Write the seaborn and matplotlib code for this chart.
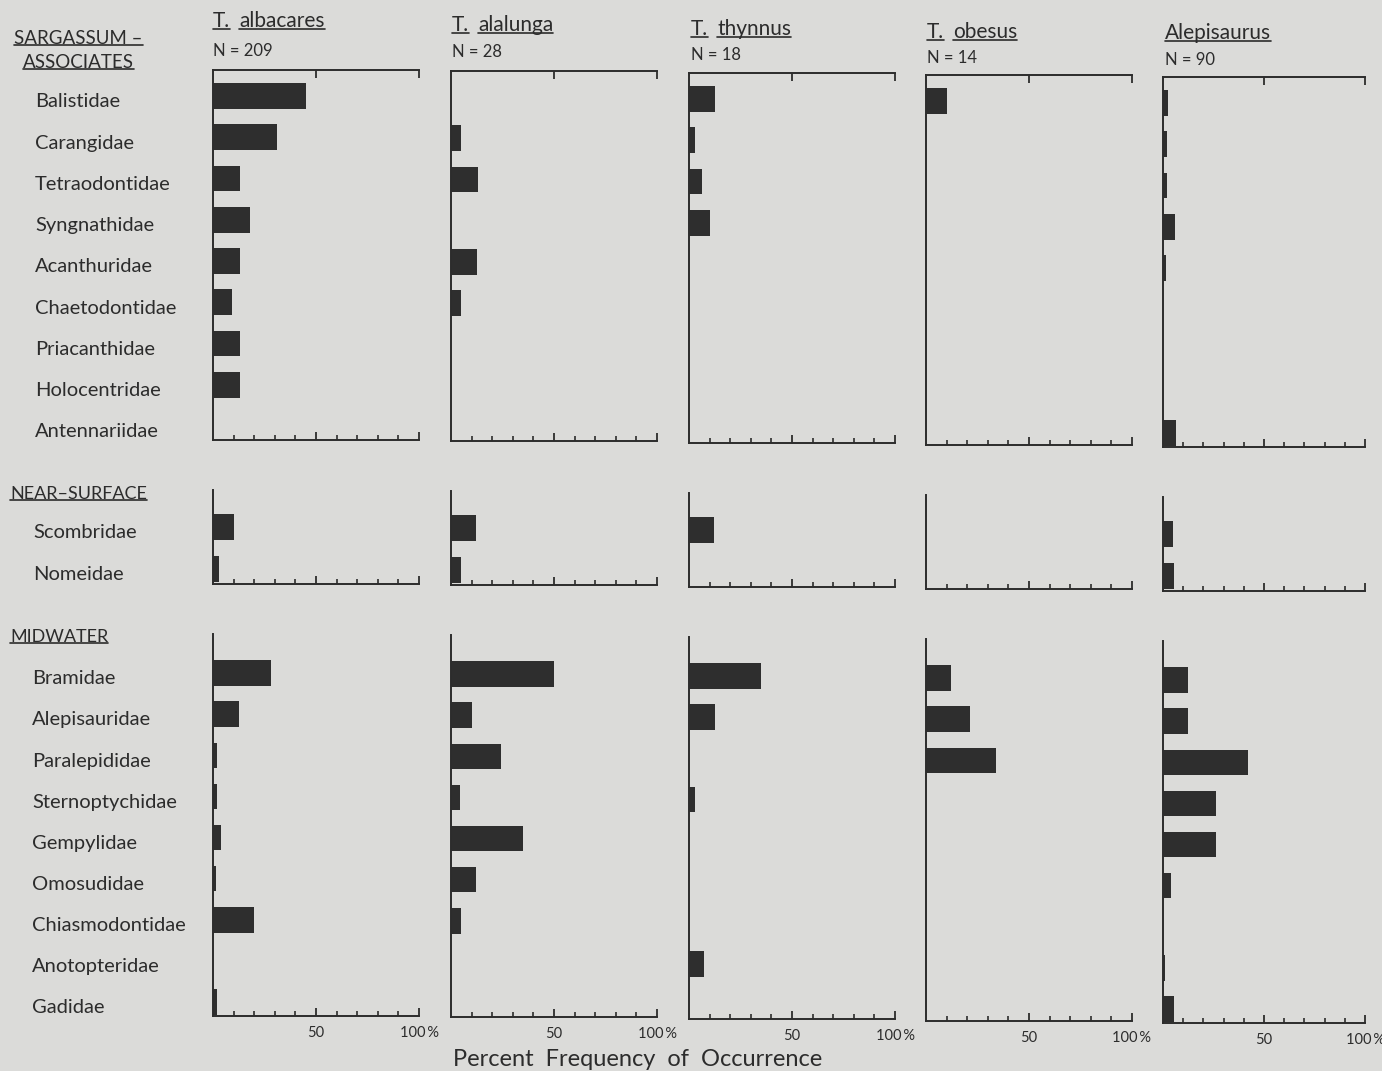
import numpy as np
import pandas as pd
import matplotlib
matplotlib.use('Agg')
import matplotlib.pyplot as plt
import matplotlib.transforms as mtransforms
from matplotlib.lines import Line2D
from matplotlib.ticker import FixedLocator
import seaborn as sns

# --- Data: percent frequency of occurrence ---
species = ['albacares', 'alalunga', 'thynnus', 'obesus', 'Alepisaurus']
genus_prefix = ['T.', 'T.', 'T.', 'T.', '']
sample_sizes = [209, 28, 18, 14, 90]

sargassum_families = ['Balistidae', 'Carangidae', 'Tetraodontidae', 'Syngnathidae',
                      'Acanthuridae', 'Chaetodontidae', 'Priacanthidae', 'Holocentridae',
                      'Antennariidae']
near_surface_families = ['Scombridae', 'Nomeidae']
midwater_families = ['Bramidae', 'Alepisauridae', 'Paralepididae', 'Sternoptychidae',
                     'Gempylidae', 'Omosudidae', 'Chiasmodontidae', 'Anotopteridae', 'Gadidae']

albacares_sargassum = [45, 31, 13, 18, 13, 9, 13, 13, 0]
alalunga_sargassum = [0, 5, 13, 0, 12.5, 5, 0, 0, 0]
thynnus_sargassum = [12.5, 3, 6.5, 10, 0, 0, 0, 0, 0]
obesus_sargassum = [10, 0, 0, 0, 0, 0, 0, 0, 0]
alepisaurus_sargassum = [2.5, 2, 2, 6, 1.5, 0, 0, 0, 6.5]

albacares_near = [10, 3]
alalunga_near = [12, 5]
thynnus_near = [12, 0]
obesus_near = [0, 0]
alepisaurus_near = [5, 5.5]

albacares_mid = [28, 12.5, 2, 2, 4, 1.5, 20, 0, 2]
alalunga_mid = [50, 10, 24.5, 4.5, 35, 12, 5, 0, 0]
thynnus_mid = [35, 12.5, 0, 3, 0, 0, 0, 7.5, 0]
obesus_mid = [12, 21.5, 34, 0, 0, 0, 0, 0, 0]
alepisaurus_mid = [12.5, 12.5, 42, 26, 26, 4, 0, 1, 5.5]

groups = {
    'sargassum': (sargassum_families, [albacares_sargassum, alalunga_sargassum, thynnus_sargassum,
                                       obesus_sargassum, alepisaurus_sargassum]),
    'near': (near_surface_families, [albacares_near, alalunga_near, thynnus_near,
                                     obesus_near, alepisaurus_near]),
    'mid': (midwater_families, [albacares_mid, alalunga_mid, thynnus_mid,
                                obesus_mid, alepisaurus_mid]),
}

rows = []
for group, (fams, series) in groups.items():
    for sp, vals in zip(species, series):
        for fam, v in zip(fams, vals):
            rows.append({'group': group, 'species': sp, 'family': fam, 'pct': v})
df = pd.DataFrame(rows)

# --- Style ---
BG = '#dbdbd9'
INK = '#2c2c2c'
BAR = '#2e2e2e'
sns.set_theme(style='white')
plt.rcParams['font.family'] = ['Lato', 'DejaVu Sans']
plt.rcParams['text.color'] = INK

W, H = 1382, 1071
fig = plt.figure(figsize=(W / 100, H / 100), dpi=100, facecolor=BG)

col_left = [213, 451, 689, 926, 1163]
col_w = [206, 206, 206, 206, 202]
col_dy = [0, 1, 3, 5, 7]
# group -> (top px, bottom px, ylim bottom, ylim top)
layout = {
    'sargassum': (70, 440, 8.34, -0.63),
    'near': (490, 584, 1.36, -0.88),
    'mid': (634, 1016, 8.34, -0.95),
}
label_x = {'sargassum': 35, 'near': 33, 'mid': 32}

first_axes = {}
for group, (top, bottom, yb, yt) in layout.items():
    fams = groups[group][0]
    for i, sp in enumerate(species):
        t = top + col_dy[i]
        b = bottom + col_dy[i]
        ax = fig.add_axes([col_left[i] / W, 1 - b / H, col_w[i] / W, (b - t) / H])
        ax.set_facecolor('none')
        sub = df[(df.group == group) & (df.species == sp)]
        sns.barplot(data=sub, x='pct', y='family', order=fams, color=BAR, saturation=1,
                    width=0.62, errorbar=None, linewidth=0, ax=ax)
        ax.set_xlim(0, 100)
        ax.set_ylim(yb, yt)
        ax.set_yticks([])
        ax.set_xlabel('')
        ax.set_ylabel('')
        for s in ['left', 'bottom', 'top', 'right']:
            ax.spines[s].set_color(INK)
            ax.spines[s].set_linewidth(1.4)
        ax.spines['right'].set_visible(False)
        ax.spines['top'].set_visible(group == 'sargassum')
        ax.xaxis.set_major_locator(FixedLocator([50, 100]))
        ax.xaxis.set_minor_locator(FixedLocator([10, 20, 30, 40, 60, 70, 80, 90]))
        ax.tick_params(axis='x', which='major', direction='in', length=6, width=1.3,
                       color=INK, top=(group == 'sargassum'), bottom=True, pad=7,
                       labelsize=10.5, labelcolor=INK)
        ax.tick_params(axis='x', which='minor', direction='in', length=3.5, width=1.2,
                       color=INK, top=False, bottom=True)
        if group == 'mid':
            ax.set_xticklabels(['50', '100\u2009%'])
        else:
            ax.set_xticklabels([])
        if i == 0:
            first_axes[group] = ax

# family labels on the left
for group, ax in first_axes.items():
    trans = mtransforms.blended_transform_factory(fig.transFigure, ax.transData)
    for k, fam in enumerate(groups[group][0]):
        ax.text(label_x[group] / W, k + 0.14, fam, transform=trans, fontsize=14.5,
                ha='left', va='center', color=INK)

# group headings (underlined)
underlined = []
underlined.append(fig.text(14 / W, 1 - 38 / H, 'SARGASSUM –', fontsize=13.5, ha='left', va='center'))
underlined.append(fig.text(23 / W, 1 - 62 / H, 'ASSOCIATES', fontsize=13.5, ha='left', va='center'))
underlined.append(fig.text(10 / W, 1 - 494 / H, 'NEAR–SURFACE', fontsize=13, ha='left', va='center'))
underlined.append(fig.text(10 / W, 1 - 637 / H, 'MIDWATER', fontsize=13, ha='left', va='center'))

# species titles
title_x = [213, 452, 691, 927, 1165]
title_y = [21, 25, 29, 32, 33]
n_y = [51, 52, 55, 58, 60]
prefixes = []
for i, sp in enumerate(species):
    fig.text(title_x[i] / W, 1 - n_y[i] / H, f'N = {sample_sizes[i]}', fontsize=12,
             ha='left', va='center')
    if genus_prefix[i]:
        prefixes.append(fig.text(title_x[i] / W, 1 - title_y[i] / H, genus_prefix[i],
                                 fontsize=15, ha='left', va='center'))
    else:
        prefixes.append(None)

fig.canvas.draw()
renderer = fig.canvas.get_renderer()
inv = fig.transFigure.inverted()
for i, sp in enumerate(species):
    if prefixes[i] is not None:
        underlined.append(prefixes[i])
        bb = prefixes[i].get_window_extent(renderer=renderer)
        x0 = inv.transform((bb.x1 + 9, 0))[0]
    else:
        x0 = title_x[i] / W
    underlined.append(fig.text(x0, 1 - title_y[i] / H, sp, fontsize=15, ha='left', va='center'))

fig.text(638 / W, 1 - 1059 / H, 'Percent  Frequency  of  Occurrence', fontsize=17,
         ha='center', va='center')

fig.canvas.draw()
renderer = fig.canvas.get_renderer()
for t in underlined:
    bb = t.get_window_extent(renderer=renderer)
    (x0, y0), (x1, _) = inv.transform([(bb.x0, bb.y0 + 2), (bb.x1, bb.y0)])
    fig.add_artist(Line2D([x0, x1], [y0, y0], transform=fig.transFigure, color=INK, lw=1.2))

fig.savefig('out.png', dpi=100, facecolor=BG)
